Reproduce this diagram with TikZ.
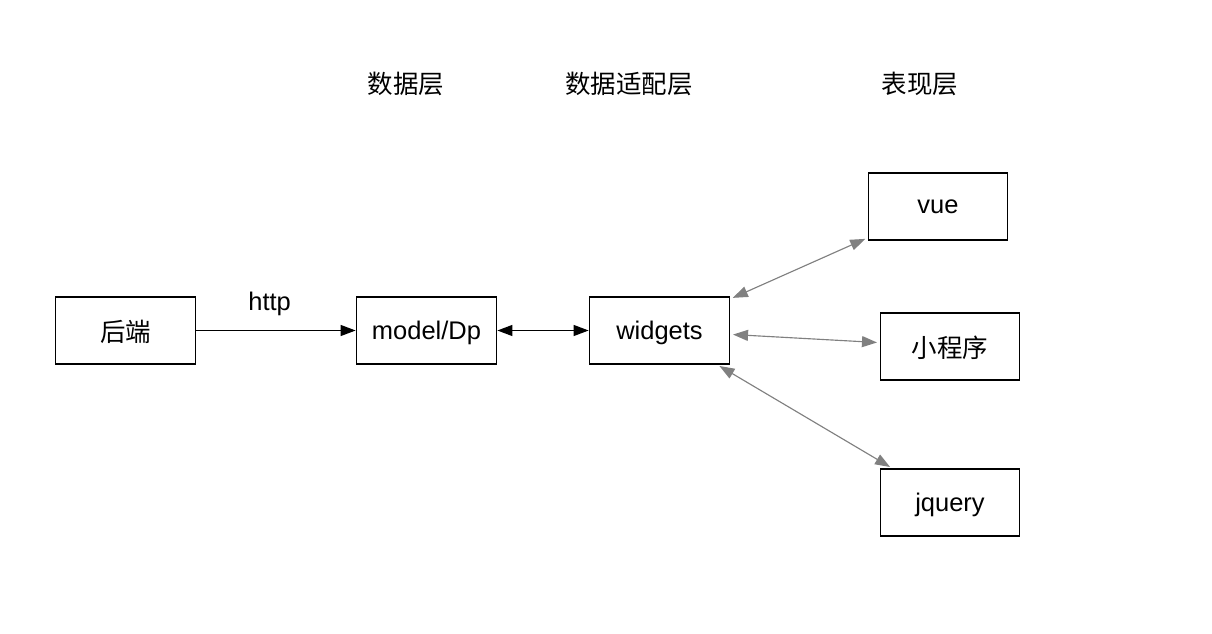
\documentclass[tikz,border=0pt]{standalone}
\usepackage{fontspec}
\setmainfont{Liberation Sans}
\newfontfamily\cjk{Noto Sans CJK SC}
\usetikzlibrary{arrows.meta}
\tikzset{
    layerbox/.style={rectangle, draw=black, line width=0.75pt, minimum width=2.81cm, minimum height=1.34cm, text centered, text depth=0pt, font=\fontsize{14.5}{17}\selectfont},
    layertitle/.style={font=\cjk\fontsize{14.5}{17}\selectfont},
    tip/.style={line width=0.7pt, -{Triangle[length=0.3cm, width=0.22cm]}},
    dtip/.style={line width=0.7pt, {Triangle[length=0.3cm, width=0.22cm]}-{Triangle[length=0.3cm, width=0.22cm]}},
    gtip/.style={draw=gray, line width=0.65pt, {Triangle[length=0.3cm, width=0.22cm]}-{Triangle[length=0.3cm, width=0.22cm]}, shorten <=1.5pt, shorten >=1.5pt}
}
\begin{document}
\begin{tikzpicture}[x=0.02cm, y=-0.02cm]
            \useasboundingbox (0, 0) rectangle (1212, 634);
            \node [layertitle] (tdata) at (406, 84) {数据层};
            \node [layertitle] (tadapt) at (629, 84) {数据适配层};
            \node [layertitle] (tview) at (920, 84) {表现层};
            \node [layerbox] (backend) at (125.5, 330.5) {\cjk 后端};
            \node [layerbox] (model) at (426.5, 330.5) {model/Dp};
            \node [layerbox] (widgets) at (659.5, 330.5) {widgets};
            \node [layerbox, minimum width=2.79cm] (vue) at (938, 206.5) {vue};
            \node [layerbox, minimum width=2.79cm] (mini) at (950, 346.5) {\cjk 小程序};
            \node [layerbox, minimum width=2.79cm] (jquery) at (950, 502.5) {jquery};
            \draw[tip] (backend) -- (model) node [pos=0.46, above=0.16cm, font=\fontsize{14.5}{17}\selectfont] (http) {http};
            \draw[dtip] (model) -- (widgets);
            \draw[gtip] (widgets) -- (vue);
            \draw[gtip] (widgets) -- (mini);
            \draw[gtip] (widgets) -- (jquery);
        \end{tikzpicture}
\end{document}
